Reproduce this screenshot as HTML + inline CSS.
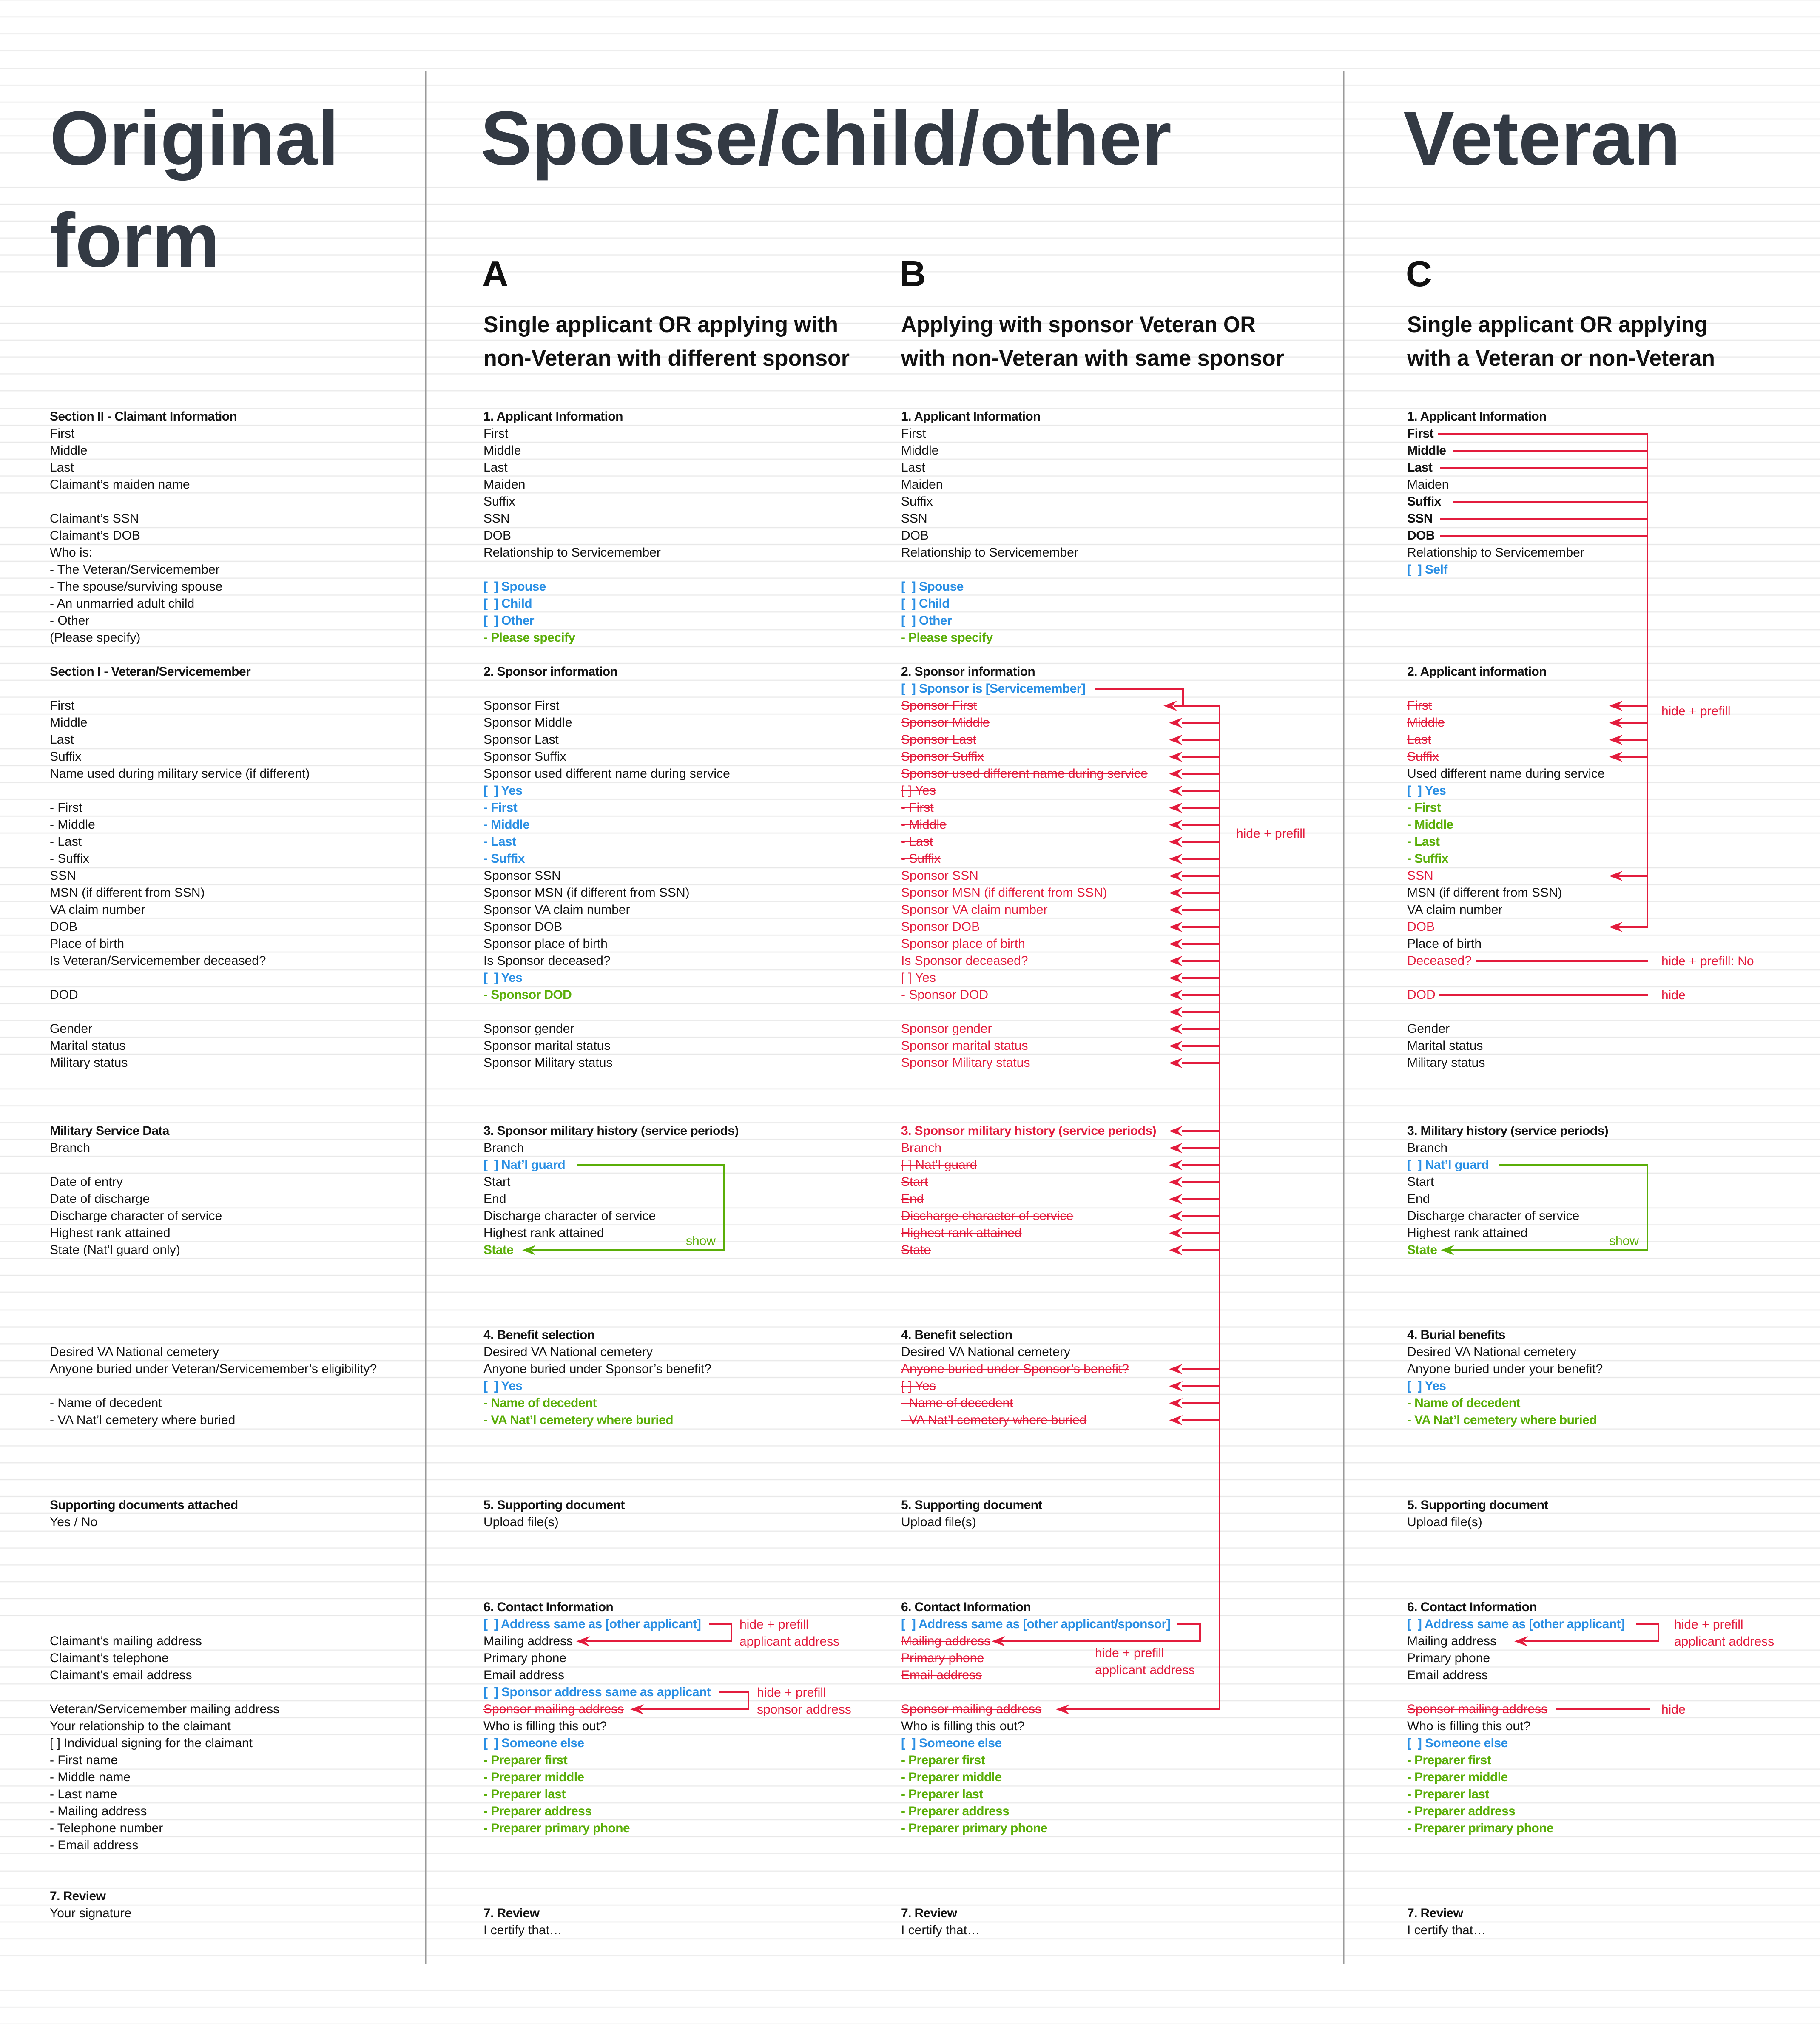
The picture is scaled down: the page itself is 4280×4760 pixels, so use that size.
<!DOCTYPE html>
<html><head><meta charset="utf-8">
<style>
html,body{margin:0;padding:0}
body{width:4280px;height:4760px;position:relative;overflow:hidden;background-color:#fff;
background-image:repeating-linear-gradient(to bottom,#e6e6e6 0px,#e6e6e6 2px,transparent 2px,transparent 40px);background-position:0 -1px;
font-family:"Liberation Sans",Arial,sans-serif;}
.t{position:absolute;font-size:30px;line-height:40px;white-space:nowrap;color:#141414}
.o{left:117px}.a{left:1137px}.b{left:2119px}.c{left:3309px}
.k{font-weight:bold;letter-spacing:-0.6px}
.u{font-weight:bold;color:#2a8fe4;letter-spacing:-0.6px}
.g{font-weight:bold;color:#5aae08;letter-spacing:-0.6px}
.s{color:#e31c3d;text-decoration:line-through;text-decoration-thickness:2px}
svg{position:absolute;left:0;top:0}
</style></head><body>
<svg width="4280" height="4760" viewBox="0 0 4280 4760">
<defs><path id="ah" d="M0,0 L32,-12 L21,0 L32,12Z"/></defs>
<line x1="1001" y1="167" x2="1001" y2="4620" stroke="#9a9a9a" stroke-width="3"/>
<line x1="3160" y1="167" x2="3160" y2="4620" stroke="#9a9a9a" stroke-width="3"/>
<g font-family="Liberation Sans, Arial, sans-serif" font-weight="bold" fill="#333a44" font-size="180">
<text x="117" y="387" textLength="680" lengthAdjust="spacingAndGlyphs">Original</text>
<text x="117" y="627">form</text>
<text x="1130" y="387" textLength="1625" lengthAdjust="spacingAndGlyphs">Spouse/child/other</text>
<text x="3300" y="387" textLength="652" lengthAdjust="spacingAndGlyphs">Veteran</text>
</g>
<g font-family="Liberation Sans, Arial, sans-serif" font-weight="bold" fill="#111">
<text x="1134" y="673" font-size="85">A</text>
<text x="2116" y="673" font-size="85">B</text>
<text x="3306" y="673" font-size="85">C</text>
<g font-size="53">
<text x="1137" y="781" textLength="834" lengthAdjust="spacingAndGlyphs">Single applicant OR applying with</text>
<text x="1137" y="860" textLength="861" lengthAdjust="spacingAndGlyphs">non-Veteran with different sponsor</text>
<text x="2119" y="781" textLength="834" lengthAdjust="spacingAndGlyphs">Applying with sponsor Veteran OR</text>
<text x="2119" y="860" textLength="901" lengthAdjust="spacingAndGlyphs">with non-Veteran with same sponsor</text>
<text x="3309" y="781" textLength="707" lengthAdjust="spacingAndGlyphs">Single applicant OR applying</text>
<text x="3309" y="860" textLength="724" lengthAdjust="spacingAndGlyphs">with a Veteran or non-Veteran</text>
</g></g>

<g stroke="#e31c3d" stroke-width="4" fill="none">
<path d="M2576,1620 H2782 V1660"/>
<path d="M2760,1660 H2868 V4020 H2505"/>
<path d="M2780,1700H2868M2780,1740H2868M2780,1780H2868M2780,1820H2868M2780,1860H2868M2780,1900H2868M2780,1940H2868M2780,1980H2868M2780,2020H2868M2780,2060H2868M2780,2100H2868M2780,2140H2868M2780,2180H2868M2780,2220H2868M2780,2260H2868M2780,2300H2868M2780,2340H2868M2780,2380H2868M2780,2420H2868M2780,2460H2868M2780,2500H2868"/>
<path d="M2780,2660H2868M2780,2700H2868M2780,2740H2868M2780,2780H2868M2780,2820H2868M2780,2860H2868M2780,2900H2868M2780,2940H2868"/>
<path d="M2780,3220H2868M2780,3260H2868M2780,3300H2868M2780,3340H2868"/>
<path d="M2769,3820 H2822 V3860 H2355"/>
<path d="M1668,3820 H1720 V3860 H1378"/>
<path d="M1691,3980 H1760 V4020 H1505"/>
<path d="M3382,1020 H3874 V2180 H3806"/>
<path d="M3418,1060H3874M3386,1100H3874M3418,1180H3874M3386,1220H3874M3386,1260H3874"/>
<path d="M3806,1660H3874M3806,1700H3874M3806,1740H3874M3806,1780H3874M3806,2060H3874"/>
<path d="M3471,2260H3876M3384,2340H3876"/>
<path d="M3848,3820 H3900 V3860 H3584"/>
<path d="M3660,4020H3881"/>
</g>
<g fill="#e31c3d">
<use href="#ah" x="2736" y="1660"/>
<use href="#ah" x="2749" y="1700"/><use href="#ah" x="2749" y="1740"/><use href="#ah" x="2749" y="1780"/><use href="#ah" x="2749" y="1820"/><use href="#ah" x="2749" y="1860"/><use href="#ah" x="2749" y="1900"/><use href="#ah" x="2749" y="1940"/><use href="#ah" x="2749" y="1980"/><use href="#ah" x="2749" y="2020"/><use href="#ah" x="2749" y="2060"/><use href="#ah" x="2749" y="2100"/><use href="#ah" x="2749" y="2140"/><use href="#ah" x="2749" y="2180"/><use href="#ah" x="2749" y="2220"/><use href="#ah" x="2749" y="2260"/><use href="#ah" x="2749" y="2300"/><use href="#ah" x="2749" y="2340"/><use href="#ah" x="2749" y="2380"/><use href="#ah" x="2749" y="2420"/><use href="#ah" x="2749" y="2460"/><use href="#ah" x="2749" y="2500"/>
<use href="#ah" x="2749" y="2660"/><use href="#ah" x="2749" y="2700"/><use href="#ah" x="2749" y="2740"/><use href="#ah" x="2749" y="2780"/><use href="#ah" x="2749" y="2820"/><use href="#ah" x="2749" y="2860"/><use href="#ah" x="2749" y="2900"/><use href="#ah" x="2749" y="2940"/>
<use href="#ah" x="2749" y="3220"/><use href="#ah" x="2749" y="3260"/><use href="#ah" x="2749" y="3300"/><use href="#ah" x="2749" y="3340"/>
<use href="#ah" x="2483" y="4020"/>
<use href="#ah" x="2332" y="3860"/>
<use href="#ah" x="1355" y="3860"/>
<use href="#ah" x="1482" y="4020"/>
<use href="#ah" x="3784" y="1660"/><use href="#ah" x="3784" y="1700"/><use href="#ah" x="3784" y="1740"/><use href="#ah" x="3784" y="1780"/><use href="#ah" x="3784" y="2060"/><use href="#ah" x="3784" y="2180"/>
<use href="#ah" x="3561" y="3860"/>
</g>
<g stroke="#5aae08" stroke-width="4" fill="none">
<path d="M1356,2740 H1702 V2940 H1250"/>
<path d="M3526,2740 H3874 V2940 H3410"/>
</g>
<g fill="#5aae08">
<use href="#ah" x="1228" y="2940"/>
<use href="#ah" x="3388" y="2940"/>
</g>
<g font-family="Liberation Sans, Arial, sans-serif" font-size="30" fill="#5aae08" text-anchor="end">
<text x="1683" y="2928">show</text>
<text x="3854" y="2928">show</text>
</g>
<g font-family="Liberation Sans, Arial, sans-serif" font-size="30" fill="#e31c3d">
<text x="2907" y="1970">hide + prefill</text>
<text x="2575" y="3897">hide + prefill</text>
<text x="2575" y="3937">applicant address</text>
<text x="1739" y="3830">hide + prefill</text>
<text x="1739" y="3870">applicant address</text>
<text x="1780" y="3990">hide + prefill</text>
<text x="1780" y="4030">sponsor address</text>
<text x="3907" y="1682">hide + prefill</text>
<text x="3907" y="2270">hide + prefill: No</text>
<text x="3907" y="2350">hide</text>
<text x="3937" y="3830">hide + prefill</text>
<text x="3937" y="3870">applicant address</text>
<text x="3907" y="4030">hide</text>
</g>
</svg>

<div class="t o k" style="top:960px">Section II - Claimant Information</div>
<div class="t o" style="top:1000px">First</div>
<div class="t o" style="top:1040px">Middle</div>
<div class="t o" style="top:1080px">Last</div>
<div class="t o" style="top:1120px">Claimant’s maiden name</div>
<div class="t o" style="top:1200px">Claimant’s SSN</div>
<div class="t o" style="top:1240px">Claimant’s DOB</div>
<div class="t o" style="top:1280px">Who is:</div>
<div class="t o" style="top:1320px">- The Veteran/Servicemember</div>
<div class="t o" style="top:1360px">- The spouse/surviving spouse</div>
<div class="t o" style="top:1400px">- An unmarried adult child</div>
<div class="t o" style="top:1440px">- Other</div>
<div class="t o" style="top:1480px">(Please specify)</div>
<div class="t o k" style="top:1560px">Section I - Veteran/Servicemember</div>
<div class="t o" style="top:1640px">First</div>
<div class="t o" style="top:1680px">Middle</div>
<div class="t o" style="top:1720px">Last</div>
<div class="t o" style="top:1760px">Suffix</div>
<div class="t o" style="top:1800px">Name used during military service (if different)</div>
<div class="t o" style="top:1880px">- First</div>
<div class="t o" style="top:1920px">- Middle</div>
<div class="t o" style="top:1960px">- Last</div>
<div class="t o" style="top:2000px">- Suffix</div>
<div class="t o" style="top:2040px">SSN</div>
<div class="t o" style="top:2080px">MSN (if different from SSN)</div>
<div class="t o" style="top:2120px">VA claim number</div>
<div class="t o" style="top:2160px">DOB</div>
<div class="t o" style="top:2200px">Place of birth</div>
<div class="t o" style="top:2240px">Is Veteran/Servicemember deceased?</div>
<div class="t o" style="top:2320px">DOD</div>
<div class="t o" style="top:2400px">Gender</div>
<div class="t o" style="top:2440px">Marital status</div>
<div class="t o" style="top:2480px">Military status</div>
<div class="t o k" style="top:2640px">Military Service Data</div>
<div class="t o" style="top:2680px">Branch</div>
<div class="t o" style="top:2760px">Date of entry</div>
<div class="t o" style="top:2800px">Date of discharge</div>
<div class="t o" style="top:2840px">Discharge character of service</div>
<div class="t o" style="top:2880px">Highest rank attained</div>
<div class="t o" style="top:2920px">State (Nat’l guard only)</div>
<div class="t o" style="top:3160px">Desired VA National cemetery</div>
<div class="t o" style="top:3200px">Anyone buried under Veteran/Servicemember’s eligibility?</div>
<div class="t o" style="top:3280px">- Name of decedent</div>
<div class="t o" style="top:3320px">- VA Nat’l cemetery where buried</div>
<div class="t o k" style="top:3520px">Supporting documents attached</div>
<div class="t o" style="top:3560px">Yes / No</div>
<div class="t o" style="top:3840px">Claimant’s mailing address</div>
<div class="t o" style="top:3880px">Claimant’s telephone</div>
<div class="t o" style="top:3920px">Claimant’s email address</div>
<div class="t o" style="top:4000px">Veteran/Servicemember mailing address</div>
<div class="t o" style="top:4040px">Your relationship to the claimant</div>
<div class="t o" style="top:4080px">[ ] Individual signing for the claimant</div>
<div class="t o" style="top:4120px">- First name</div>
<div class="t o" style="top:4160px">- Middle name</div>
<div class="t o" style="top:4200px">- Last name</div>
<div class="t o" style="top:4240px">- Mailing address</div>
<div class="t o" style="top:4280px">- Telephone number</div>
<div class="t o" style="top:4320px">- Email address</div>
<div class="t o k" style="top:4440px">7. Review</div>
<div class="t o" style="top:4480px">Your signature</div>

<div class="t a k" style="top:960px">1. Applicant Information</div>
<div class="t a" style="top:1000px">First</div>
<div class="t a" style="top:1040px">Middle</div>
<div class="t a" style="top:1080px">Last</div>
<div class="t a" style="top:1120px">Maiden</div>
<div class="t a" style="top:1160px">Suffix</div>
<div class="t a" style="top:1200px">SSN</div>
<div class="t a" style="top:1240px">DOB</div>
<div class="t a" style="top:1280px">Relationship to Servicemember</div>
<div class="t a u" style="top:1360px">[&nbsp;&nbsp;] Spouse</div>
<div class="t a u" style="top:1400px">[&nbsp;&nbsp;] Child</div>
<div class="t a u" style="top:1440px">[&nbsp;&nbsp;] Other</div>
<div class="t a g" style="top:1480px">- Please specify</div>
<div class="t a k" style="top:1560px">2. Sponsor information</div>
<div class="t a" style="top:1640px">Sponsor First</div>
<div class="t a" style="top:1680px">Sponsor Middle</div>
<div class="t a" style="top:1720px">Sponsor Last</div>
<div class="t a" style="top:1760px">Sponsor Suffix</div>
<div class="t a" style="top:1800px">Sponsor used different name during service</div>
<div class="t a u" style="top:1840px">[&nbsp;&nbsp;] Yes</div>
<div class="t a u" style="top:1880px">- First</div>
<div class="t a u" style="top:1920px">- Middle</div>
<div class="t a u" style="top:1960px">- Last</div>
<div class="t a u" style="top:2000px">- Suffix</div>
<div class="t a" style="top:2040px">Sponsor SSN</div>
<div class="t a" style="top:2080px">Sponsor MSN (if different from SSN)</div>
<div class="t a" style="top:2120px">Sponsor VA claim number</div>
<div class="t a" style="top:2160px">Sponsor DOB</div>
<div class="t a" style="top:2200px">Sponsor place of birth</div>
<div class="t a" style="top:2240px">Is Sponsor deceased?</div>
<div class="t a u" style="top:2280px">[&nbsp;&nbsp;] Yes</div>
<div class="t a g" style="top:2320px">- Sponsor DOD</div>
<div class="t a" style="top:2400px">Sponsor gender</div>
<div class="t a" style="top:2440px">Sponsor marital status</div>
<div class="t a" style="top:2480px">Sponsor Military status</div>
<div class="t a k" style="top:2640px">3. Sponsor military history (service periods)</div>
<div class="t a" style="top:2680px">Branch</div>
<div class="t a u" style="top:2720px">[&nbsp;&nbsp;] Nat’l guard</div>
<div class="t a" style="top:2760px">Start</div>
<div class="t a" style="top:2800px">End</div>
<div class="t a" style="top:2840px">Discharge character of service</div>
<div class="t a" style="top:2880px">Highest rank attained</div>
<div class="t a g" style="top:2920px">State</div>
<div class="t a k" style="top:3120px">4. Benefit selection</div>
<div class="t a" style="top:3160px">Desired VA National cemetery</div>
<div class="t a" style="top:3200px">Anyone buried under Sponsor’s benefit?</div>
<div class="t a u" style="top:3240px">[&nbsp;&nbsp;] Yes</div>
<div class="t a g" style="top:3280px">- Name of decedent</div>
<div class="t a g" style="top:3320px">- VA Nat’l cemetery where buried</div>
<div class="t a k" style="top:3520px">5. Supporting document</div>
<div class="t a" style="top:3560px">Upload file(s)</div>
<div class="t a k" style="top:3760px">6. Contact Information</div>
<div class="t a u" style="top:3800px">[&nbsp;&nbsp;] Address same as [other applicant]</div>
<div class="t a" style="top:3840px">Mailing address</div>
<div class="t a" style="top:3880px">Primary phone</div>
<div class="t a" style="top:3920px">Email address</div>
<div class="t a u" style="top:3960px">[&nbsp;&nbsp;] Sponsor address same as applicant</div>
<div class="t a s" style="top:4000px">Sponsor mailing address</div>
<div class="t a" style="top:4040px">Who is filling this out?</div>
<div class="t a u" style="top:4080px">[&nbsp;&nbsp;] Someone else</div>
<div class="t a g" style="top:4120px">- Preparer first</div>
<div class="t a g" style="top:4160px">- Preparer middle</div>
<div class="t a g" style="top:4200px">- Preparer last</div>
<div class="t a g" style="top:4240px">- Preparer address</div>
<div class="t a g" style="top:4280px">- Preparer primary phone</div>
<div class="t a k" style="top:4480px">7. Review</div>
<div class="t a" style="top:4520px">I certify that…</div>

<div class="t b k" style="top:960px">1. Applicant Information</div>
<div class="t b" style="top:1000px">First</div>
<div class="t b" style="top:1040px">Middle</div>
<div class="t b" style="top:1080px">Last</div>
<div class="t b" style="top:1120px">Maiden</div>
<div class="t b" style="top:1160px">Suffix</div>
<div class="t b" style="top:1200px">SSN</div>
<div class="t b" style="top:1240px">DOB</div>
<div class="t b" style="top:1280px">Relationship to Servicemember</div>
<div class="t b u" style="top:1360px">[&nbsp;&nbsp;] Spouse</div>
<div class="t b u" style="top:1400px">[&nbsp;&nbsp;] Child</div>
<div class="t b u" style="top:1440px">[&nbsp;&nbsp;] Other</div>
<div class="t b g" style="top:1480px">- Please specify</div>
<div class="t b k" style="top:1560px">2. Sponsor information</div>
<div class="t b u" style="top:1600px">[&nbsp;&nbsp;] Sponsor is [Servicemember]</div>
<div class="t b s" style="top:1640px">Sponsor First</div>
<div class="t b s" style="top:1680px">Sponsor Middle</div>
<div class="t b s" style="top:1720px">Sponsor Last</div>
<div class="t b s" style="top:1760px">Sponsor Suffix</div>
<div class="t b s" style="top:1800px">Sponsor used different name during service</div>
<div class="t b s" style="top:1840px">[ ] Yes</div>
<div class="t b s" style="top:1880px">- First</div>
<div class="t b s" style="top:1920px">- Middle</div>
<div class="t b s" style="top:1960px">- Last</div>
<div class="t b s" style="top:2000px">- Suffix</div>
<div class="t b s" style="top:2040px">Sponsor SSN</div>
<div class="t b s" style="top:2080px">Sponsor MSN (if different from SSN)</div>
<div class="t b s" style="top:2120px">Sponsor VA claim number</div>
<div class="t b s" style="top:2160px">Sponsor DOB</div>
<div class="t b s" style="top:2200px">Sponsor place of birth</div>
<div class="t b s" style="top:2240px">Is Sponsor deceased?</div>
<div class="t b s" style="top:2280px">[ ] Yes</div>
<div class="t b s" style="top:2320px">- Sponsor DOD</div>
<div class="t b s" style="top:2400px">Sponsor gender</div>
<div class="t b s" style="top:2440px">Sponsor marital status</div>
<div class="t b s" style="top:2480px">Sponsor Military status</div>
<div class="t b s k" style="top:2640px">3. Sponsor military history (service periods)</div>
<div class="t b s" style="top:2680px">Branch</div>
<div class="t b s" style="top:2720px">[ ] Nat’l guard</div>
<div class="t b s" style="top:2760px">Start</div>
<div class="t b s" style="top:2800px">End</div>
<div class="t b s" style="top:2840px">Discharge character of service</div>
<div class="t b s" style="top:2880px">Highest rank attained</div>
<div class="t b s" style="top:2920px">State</div>
<div class="t b k" style="top:3120px">4. Benefit selection</div>
<div class="t b" style="top:3160px">Desired VA National cemetery</div>
<div class="t b s" style="top:3200px">Anyone buried under Sponsor’s benefit?</div>
<div class="t b s" style="top:3240px">[ ] Yes</div>
<div class="t b s" style="top:3280px">- Name of decedent</div>
<div class="t b s" style="top:3320px">- VA Nat’l cemetery where buried</div>
<div class="t b k" style="top:3520px">5. Supporting document</div>
<div class="t b" style="top:3560px">Upload file(s)</div>
<div class="t b k" style="top:3760px">6. Contact Information</div>
<div class="t b u" style="top:3800px">[&nbsp;&nbsp;] Address same as [other applicant/sponsor]</div>
<div class="t b s" style="top:3840px">Mailing address</div>
<div class="t b s" style="top:3880px">Primary phone</div>
<div class="t b s" style="top:3920px">Email address</div>
<div class="t b s" style="top:4000px">Sponsor mailing address</div>
<div class="t b" style="top:4040px">Who is filling this out?</div>
<div class="t b u" style="top:4080px">[&nbsp;&nbsp;] Someone else</div>
<div class="t b g" style="top:4120px">- Preparer first</div>
<div class="t b g" style="top:4160px">- Preparer middle</div>
<div class="t b g" style="top:4200px">- Preparer last</div>
<div class="t b g" style="top:4240px">- Preparer address</div>
<div class="t b g" style="top:4280px">- Preparer primary phone</div>
<div class="t b k" style="top:4480px">7. Review</div>
<div class="t b" style="top:4520px">I certify that…</div>

<div class="t c k" style="top:960px">1. Applicant Information</div>
<div class="t c k" style="top:1000px">First</div>
<div class="t c k" style="top:1040px">Middle</div>
<div class="t c k" style="top:1080px">Last</div>
<div class="t c" style="top:1120px">Maiden</div>
<div class="t c k" style="top:1160px">Suffix</div>
<div class="t c k" style="top:1200px">SSN</div>
<div class="t c k" style="top:1240px">DOB</div>
<div class="t c" style="top:1280px">Relationship to Servicemember</div>
<div class="t c u" style="top:1320px">[&nbsp;&nbsp;] Self</div>
<div class="t c k" style="top:1560px">2. Applicant information</div>
<div class="t c s" style="top:1640px">First</div>
<div class="t c s" style="top:1680px">Middle</div>
<div class="t c s" style="top:1720px">Last</div>
<div class="t c s" style="top:1760px">Suffix</div>
<div class="t c" style="top:1800px">Used different name during service</div>
<div class="t c u" style="top:1840px">[&nbsp;&nbsp;] Yes</div>
<div class="t c g" style="top:1880px">- First</div>
<div class="t c g" style="top:1920px">- Middle</div>
<div class="t c g" style="top:1960px">- Last</div>
<div class="t c g" style="top:2000px">- Suffix</div>
<div class="t c s" style="top:2040px">SSN</div>
<div class="t c" style="top:2080px">MSN (if different from SSN)</div>
<div class="t c" style="top:2120px">VA claim number</div>
<div class="t c s" style="top:2160px">DOB</div>
<div class="t c" style="top:2200px">Place of birth</div>
<div class="t c s" style="top:2240px">Deceased?</div>
<div class="t c s" style="top:2320px">DOD</div>
<div class="t c" style="top:2400px">Gender</div>
<div class="t c" style="top:2440px">Marital status</div>
<div class="t c" style="top:2480px">Military status</div>
<div class="t c k" style="top:2640px">3. Military history (service periods)</div>
<div class="t c" style="top:2680px">Branch</div>
<div class="t c u" style="top:2720px">[&nbsp;&nbsp;] Nat’l guard</div>
<div class="t c" style="top:2760px">Start</div>
<div class="t c" style="top:2800px">End</div>
<div class="t c" style="top:2840px">Discharge character of service</div>
<div class="t c" style="top:2880px">Highest rank attained</div>
<div class="t c g" style="top:2920px">State</div>
<div class="t c k" style="top:3120px">4. Burial benefits</div>
<div class="t c" style="top:3160px">Desired VA National cemetery</div>
<div class="t c" style="top:3200px">Anyone buried under your benefit?</div>
<div class="t c u" style="top:3240px">[&nbsp;&nbsp;] Yes</div>
<div class="t c g" style="top:3280px">- Name of decedent</div>
<div class="t c g" style="top:3320px">- VA Nat’l cemetery where buried</div>
<div class="t c k" style="top:3520px">5. Supporting document</div>
<div class="t c" style="top:3560px">Upload file(s)</div>
<div class="t c k" style="top:3760px">6. Contact Information</div>
<div class="t c u" style="top:3800px">[&nbsp;&nbsp;] Address same as [other applicant]</div>
<div class="t c" style="top:3840px">Mailing address</div>
<div class="t c" style="top:3880px">Primary phone</div>
<div class="t c" style="top:3920px">Email address</div>
<div class="t c s" style="top:4000px">Sponsor mailing address</div>
<div class="t c" style="top:4040px">Who is filling this out?</div>
<div class="t c u" style="top:4080px">[&nbsp;&nbsp;] Someone else</div>
<div class="t c g" style="top:4120px">- Preparer first</div>
<div class="t c g" style="top:4160px">- Preparer middle</div>
<div class="t c g" style="top:4200px">- Preparer last</div>
<div class="t c g" style="top:4240px">- Preparer address</div>
<div class="t c g" style="top:4280px">- Preparer primary phone</div>
<div class="t c k" style="top:4480px">7. Review</div>
<div class="t c" style="top:4520px">I certify that…</div>
</body></html>
